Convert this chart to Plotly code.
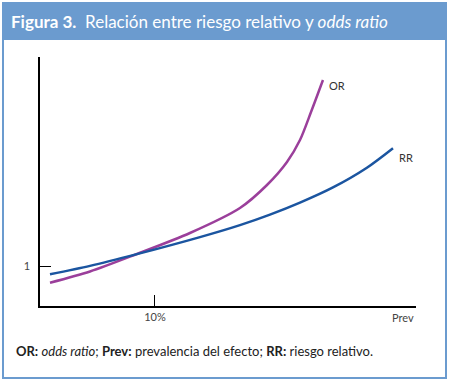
import plotly.graph_objects as go

# Data (prevalence in %, ratio value)
prev_rr = [0.87, 4.35, 8.43, 13.91, 17.39, 20.0, 22.61, 25.48, 28.43, 30.70]
rr_vals = [0.917, 1.001, 1.1185, 1.289, 1.409, 1.514, 1.634, 1.786, 1.983, 2.178]
prev_or = [0.87, 4.35, 8.43, 13.04, 17.39, 19.74, 21.48, 22.61, 23.57, 24.61]
or_vals = [0.833, 0.945, 1.12, 1.33, 1.58, 1.81, 2.04, 2.26, 2.54, 2.86]
x_tick_vals = [10]
x_tick_text = ["10%"]
y_tick_vals = [1]
y_tick_text = ["1"]

W, H = 450, 383
def X(px): return px / W
def Y(py): return 1 - py / H

FONT = "Lato, Open Sans, sans-serif"
OR_COLOR = "#9b3f9b"
RR_COLOR = "#1b55a0"
HEAD = "#6b9bcf"

fig = go.Figure()
fig.add_trace(go.Scatter(x=prev_or, y=or_vals, mode="lines", line=dict(color=OR_COLOR, width=2.5, shape="spline", smoothing=0.8), name="OR"))
fig.add_trace(go.Scatter(x=prev_rr, y=rr_vals, mode="lines", line=dict(color=RR_COLOR, width=2.5, shape="spline", smoothing=0.8), name="RR"))

fig.update_layout(
    width=W, height=H, margin=dict(l=0, r=0, t=0, b=0),
    paper_bgcolor="white", plot_bgcolor="white", showlegend=False,
    font=dict(family=FONT, color="#333333", size=11),
    xaxis=dict(domain=[X(40), X(416)], range=[0, 32.7], showgrid=False, zeroline=False,
               showline=True, linecolor="black", linewidth=1.5,
               tickvals=x_tick_vals, ticktext=x_tick_text, ticks="inside", ticklen=11,
               tickcolor="black", tickwidth=1.2, tickfont=dict(size=11, color="#444")),
    yaxis=dict(domain=[Y(306), Y(57)], range=[0.6, 3.09], showgrid=False, zeroline=False,
               showline=True, linecolor="black", linewidth=1.5,
               tickvals=y_tick_vals, ticktext=y_tick_text, ticks="inside", ticklen=11,
               ticklabelstandoff=6,
               tickcolor="black", tickwidth=1.2, tickfont=dict(size=11, color="#444")),
    shapes=[
        dict(type="rect", xref="paper", yref="paper", x0=X(3), x1=X(446), y0=Y(40), y1=Y(3),
             fillcolor=HEAD, line=dict(width=0), layer="below"),
        dict(type="line", xref="paper", yref="paper", x0=X(3), x1=X(446), y0=Y(3), y1=Y(3),
             line=dict(color="#2d5f95", width=1.5)),
        dict(type="rect", xref="paper", yref="paper", x0=X(3), x1=X(446), y0=Y(378), y1=Y(3),
             fillcolor="rgba(0,0,0,0)", line=dict(color=HEAD, width=2)),
    ],
    annotations=[
        dict(xref="paper", yref="paper", x=X(9), y=Y(22), xanchor="left", yanchor="middle",
             text="<b>Figura 3.</b>  Relación entre riesgo relativo y <i>odds ratio</i>",
             showarrow=False, font=dict(family=FONT, size=17, color="white")),
        dict(xref="x", yref="y", x=prev_or[-1], y=or_vals[-1], xanchor="left", yanchor="middle",
             xshift=4, yshift=-6, text="OR", showarrow=False, font=dict(size=11, color="#333")),
        dict(xref="x", yref="y", x=prev_rr[-1], y=rr_vals[-1], xanchor="left", yanchor="middle",
             xshift=4, yshift=-9, text="RR", showarrow=False, font=dict(size=11, color="#333")),
        dict(xref="paper", yref="paper", x=X(403), y=Y(317), xanchor="center", yanchor="middle",
             text="Prev", showarrow=False, font=dict(size=11, color="#444")),
        dict(xref="paper", yref="paper", x=X(14), y=Y(351), xanchor="left", yanchor="middle",
             text="<b>OR:</b> <i>odds ratio</i>; <b>Prev:</b> prevalencia del efecto; <b>RR:</b> riesgo relativo.",
             showarrow=False, font=dict(family=FONT, size=13, color="#222")),
    ],
)

fig.write_html("out.html", config={"displayModeBar": False},
               post_script="document.body.style.margin='0';document.body.style.padding='0';")
